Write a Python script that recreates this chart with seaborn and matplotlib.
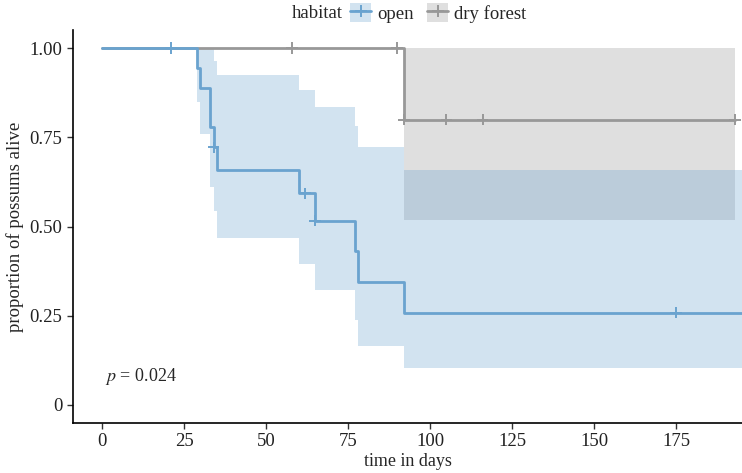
import matplotlib
matplotlib.use("Agg")
import matplotlib.pyplot as plt
import seaborn as sns
import pandas as pd
from matplotlib.lines import Line2D
from matplotlib.patches import Patch

# survival step curves
open_time = [0, 29, 30, 33, 34, 35, 60, 65, 77, 78, 92, 196]
open_surv = [1.0, 0.944, 0.889, 0.778, 0.722, 0.658, 0.593, 0.517, 0.431, 0.345, 0.259, 0.259]
open_low = [1.0, 0.85, 0.76, 0.61, 0.543, 0.469, 0.396, 0.321, 0.239, 0.166, 0.104, 0.104]
open_high = [1.0, 1.0, 1.0, 1.0, 0.963, 0.924, 0.882, 0.835, 0.782, 0.724, 0.658, 0.658]
open_cens_t = [21, 34, 62, 65, 175]
open_cens_s = [1.0, 0.722, 0.593, 0.517, 0.259]

dry_time = [0, 92, 193]
dry_surv = [1.0, 0.8, 0.8]
dry_low = [1.0, 0.518, 0.518]
dry_high = [1.0, 1.0, 1.0]
dry_cens_t = [58, 90, 92, 105, 116, 193]
dry_cens_s = [1.0, 1.0, 0.8, 0.8, 0.8, 0.8]

p_label = "0.024"

blue = "#6aa3cf"
grey = "#989898"
palette = {"open": blue, "dry forest": grey}

curves = pd.concat([
    pd.DataFrame({"time": dry_time, "surv": dry_surv, "habitat": "dry forest"}),
    pd.DataFrame({"time": open_time, "surv": open_surv, "habitat": "open"}),
])
cens = pd.concat([
    pd.DataFrame({"time": dry_cens_t, "surv": dry_cens_s, "habitat": "dry forest"}),
    pd.DataFrame({"time": open_cens_t, "surv": open_cens_s, "habitat": "open"}),
])

sns.set_style("ticks")
plt.rcParams["font.family"] = ["Liberation Serif", "DejaVu Serif"]
plt.rcParams["mathtext.fontset"] = "stix"

fig = plt.figure(figsize=(7.42, 4.73), dpi=100)
ax = fig.add_axes([0.0984, 0.1057, 0.9016, 0.83])

# confidence bands
ax.fill_between(dry_time, dry_low, dry_high, step="post", color=grey, alpha=0.3, lw=0)
ax.fill_between(open_time, open_low, open_high, step="post", color=blue, alpha=0.3, lw=0)

sns.lineplot(data=curves, x="time", y="surv", hue="habitat", palette=palette,
             drawstyle="steps-post", estimator=None, sort=False, lw=2.0, legend=False, ax=ax)
sns.scatterplot(data=cens, x="time", y="surv", hue="habitat", palette=palette,
                marker="+", s=70, linewidth=1.4, legend=False, ax=ax, zorder=5)

ax.text(1, 0.08, r"$p$ = " + p_label, fontsize=13, ha="left", va="center")

ax.set_xlim(-8.84, 195.1)
ax.set_ylim(-0.0506, 1.05)
ax.set_xticks([0, 25, 50, 75, 100, 125, 150, 175])
ax.set_yticks([0, 0.25, 0.5, 0.75, 1.0])
ax.set_yticklabels(["0", "0.25", "0.50", "0.75", "1.00"])
ax.set_xlabel("time in days", fontsize=13, labelpad=2)
ax.set_ylabel("proportion of possums alive", fontsize=13.5, labelpad=4)
ax.tick_params(labelsize=13.5, length=4, width=1, color="#333333", labelcolor="#222222")
sns.despine(ax=ax)
for s in ["left", "bottom"]:
    ax.spines[s].set_linewidth(1.2)
    ax.spines[s].set_color("black")

# legend on top
handles = [
    (Patch(facecolor=blue, alpha=0.3, lw=0), Line2D([], [], color=blue, lw=2.0, marker="+", ms=9, mew=1.4)),
    (Patch(facecolor=grey, alpha=0.3, lw=0), Line2D([], [], color=grey, lw=2.0, marker="+", ms=9, mew=1.4)),
]
fig.legend(handles, ["open", "dry forest"], loc="center", bbox_to_anchor=(0.591, 0.972), ncol=2,
           frameon=False, fontsize=13.5, handlelength=1.1, handleheight=1.2, handletextpad=0.35,
           columnspacing=0.7, borderpad=0)
fig.text(0.393, 0.972, "habitat", fontsize=13.5, ha="left", va="center")

fig.savefig("out.png", dpi=100)
